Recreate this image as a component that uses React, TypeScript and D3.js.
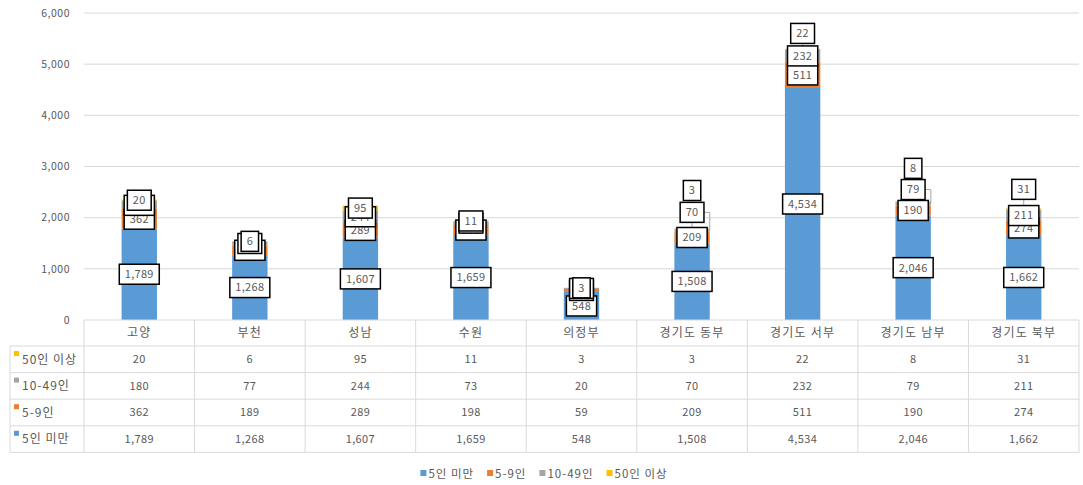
import * as d3 from "d3"

const categories = ["고양", "부천", "성남", "수원", "의정부", "경기도 동부", "경기도 서부", "경기도 남부", "경기도 북부"]
const seriesNames = ["5인 미만", "5-9인", "10-49인", "50인 이상"]
const under5 = [1789, 1268, 1607, 1659, 548, 1508, 4534, 2046, 1662]
const from5to9 = [362, 189, 289, 198, 59, 209, 511, 190, 274]
const from10to49 = [180, 77, 244, 73, 20, 70, 232, 79, 211]
const over50 = [20, 6, 95, 11, 3, 3, 22, 8, 31]
const yTicks = [0, 1000, 2000, 3000, 4000, 5000, 6000]
const colors = ["#5B9BD5", "#ED7D31", "#A5A5A5", "#FFC000"]

// labels that were dragged by hand in the workbook (px, negative = up)
const labelNudges: Record<string, number> = {
  "경기도 동부|2": -18,
  "경기도 동부|3": -38,
  "경기도 서부|3": -16,
  "경기도 남부|2": -14,
  "경기도 남부|3": -33,
  "경기도 북부|3": -20,
}

const width = 1083
const height = 485
const plot = { left: 84, right: 1079, top: 13, bottom: 320 }
const tableLeft = 10
const rowH = 26.6
const font = "'Noto Sans CJK KR', 'Noto Sans', sans-serif"
const textColor = "#595959"
const lineColor = "#D9D9D9"

const fmt = d3.format(",")

let ctx: CanvasRenderingContext2D | null = null
function measure(text: string, size: number, spacing = 0) {
  if (!ctx) ctx = document.createElement("canvas").getContext("2d")
  if (!ctx) return text.length * size * 0.6
  ctx.font = `${size}px ${font}`
  return ctx.measureText(text).width + spacing * text.length
}

export default function App() {
  const seriesValues = [under5, from5to9, from10to49, over50]
  const rows = categories.map((c, i) => {
    const r: Record<string, number | string> = { category: c }
    seriesNames.forEach((s, k) => (r[s] = seriesValues[k][i]))
    return r
  })
  const stacked = d3.stack<Record<string, number | string>>().keys(seriesNames)(rows as any)

  const x = d3.scaleBand().domain(categories).range([plot.left, plot.right]).paddingInner(0.68).paddingOuter(0.34)
  const y = d3.scaleLinear().domain([0, 6000]).range([plot.bottom, plot.top])
  const step = x.step()
  const colLeft = (i: number) => plot.left + i * step

  const labelSize = 11
  const labels = stacked.flatMap((layer, k) =>
    layer.map((d, i) => {
      const cat = categories[i]
      const value = d[1] - d[0]
      const cx = (x(cat) ?? 0) + x.bandwidth() / 2
      const anchorY = y((d[0] + d[1]) / 2)
      const nudge = labelNudges[`${cat}|${k}`] ?? 0
      const text = fmt(value)
      const w = measure(text, labelSize, 0.3) + 11
      return { k, i, cx, anchorY, cy: anchorY + nudge, nudge, text, w, h: 20 }
    })
  )

  const tableRows = [3, 2, 1, 0]
  const tableTop = plot.bottom
  const headerH = 26
  const rowTop = (r: number) => tableTop + headerH + r * rowH
  const tableBottom = rowTop(tableRows.length)

  const legendSize = 11.5
  const legendSpacing = 1
  const legendGap = 13
  const legendItems = seriesNames.map((s) => ({ s, w: 8 + measure(s, legendSize, legendSpacing) }))
  const legendTotal = d3.sum(legendItems, (d) => d.w) + legendGap * (legendItems.length - 1)
  let lx = 544 - legendTotal / 2
  const legendPos = legendItems.map((d) => {
    const p = lx
    lx += d.w + legendGap
    return p
  })

  return (
    <svg width={width} height={height} style={{ position: "absolute", left: 0, top: 0, background: "#fff" }} fontFamily={font}>
      {/* gridlines and y axis */}
      {yTicks.map((t) => (
        <g key={t}>
          {t > 0 && <line x1={plot.left} x2={plot.right} y1={y(t)} y2={y(t)} stroke={lineColor} strokeWidth={1} />}
          <text x={70} y={y(t)} dy="0.35em" textAnchor="end" fontSize={10.5} fill={textColor} letterSpacing={0.5}>
            {fmt(t)}
          </text>
        </g>
      ))}

      {/* bars */}
      {stacked.map((layer, k) => (
        <g key={k} fill={colors[k]}>
          {layer.map((d, i) => (
            <rect
              key={i}
              x={x(categories[i])}
              width={x.bandwidth()}
              y={y(d[1])}
              height={y(d[0]) - y(d[1])}
            />
          ))}
        </g>
      ))}

      {/* leader lines for moved labels */}
      {labels
        .filter((l) => l.nudge !== 0)
        .map((l) =>
          l.k === 2 ? (
            <polyline
              key={`ll${l.k}-${l.i}`}
              points={`${l.cx + l.w / 2},${l.cy} ${l.cx + x.bandwidth() / 2},${l.cy} ${l.cx + x.bandwidth() / 2},${l.anchorY}`}
              fill="none"
              stroke="#A6A6A6"
              strokeWidth={1}
            />
          ) : (
            <line
              key={`ll${l.k}-${l.i}`}
              x1={l.cx}
              x2={l.cx}
              y1={l.cy + l.h / 2}
              y2={l.anchorY}
              stroke="#A6A6A6"
              strokeWidth={1}
            />
          )
        )}

      {/* data labels */}
      {labels.map((l) => (
        <g key={`lb${l.k}-${l.i}`}>
          <rect x={l.cx - l.w / 2} y={l.cy - l.h / 2} width={l.w} height={l.h} fill="#fff" stroke="#000" strokeWidth={1.5} />
          <text x={l.cx} y={l.cy} dy="0.35em" textAnchor="middle" fontSize={labelSize} fill={textColor} letterSpacing={0.3}>
            {l.text}
          </text>
        </g>
      ))}

      {/* data table */}
      <g stroke={lineColor} strokeWidth={1} fill="none">
        <line x1={plot.left} x2={plot.right} y1={tableTop} y2={tableTop} />
        {tableRows.map((_, r) => (
          <line key={r} x1={tableLeft} x2={plot.right} y1={rowTop(r)} y2={rowTop(r)} />
        ))}
        <line x1={tableLeft} x2={plot.right} y1={tableBottom} y2={tableBottom} />
        <line x1={tableLeft} x2={tableLeft} y1={rowTop(0)} y2={tableBottom} />
        {d3.range(categories.length + 1).map((i) => (
          <line key={i} x1={colLeft(i)} x2={colLeft(i)} y1={tableTop} y2={tableBottom} />
        ))}
      </g>
      {categories.map((c, i) => (
        <text
          key={c}
          x={colLeft(i) + step / 2}
          y={tableTop + headerH / 2}
          dy="0.35em"
          textAnchor="middle"
          fontSize={12}
          fill={textColor}
          letterSpacing={1.2}
        >
          {c}
        </text>
      ))}
      {tableRows.map((k, r) => (
        <g key={k}>
          <rect x={14} y={rowTop(r) + 5} width={5} height={5} fill={colors[k]} />
          <text x={22} y={rowTop(r) + rowH / 2} dy="0.35em" fontSize={12} fill={textColor} letterSpacing={1}>
            {seriesNames[k]}
          </text>
          {seriesValues[k].map((v, i) => (
            <text
              key={i}
              x={colLeft(i) + step / 2}
              y={rowTop(r) + rowH / 2}
              dy="0.35em"
              textAnchor="middle"
              fontSize={11}
              fill={textColor}
              letterSpacing={0.4}
            >
              {fmt(v)}
            </text>
          ))}
        </g>
      ))}

      {/* legend */}
      {legendItems.map((d, k) => (
        <g key={d.s} transform={`translate(${legendPos[k]},474)`}>
          <rect x={0} y={-4} width={6} height={6} fill={colors[k]} />
          <text x={8} y={0} dy="0.35em" fontSize={legendSize} fill={textColor} letterSpacing={legendSpacing}>
            {d.s}
          </text>
        </g>
      ))}
    </svg>
  )
}
